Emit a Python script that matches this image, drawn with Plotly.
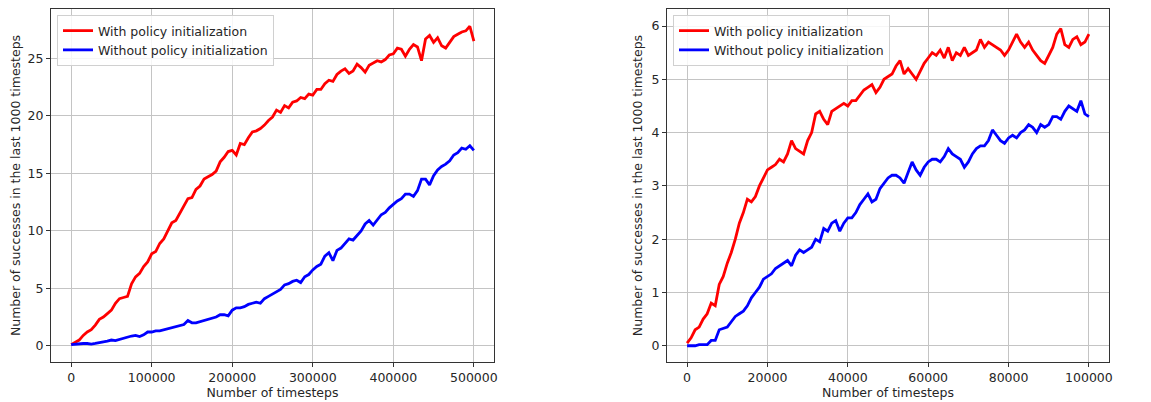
import plotly.graph_objects as go

# ---- data ----
steps_left = [i * 5000 for i in range(101)]
with_init_left = [
    0.1, 0.3, 0.5, 0.9, 1.2, 1.4, 1.8, 2.3, 2.5, 2.8,
    3.1, 3.7, 4.1, 4.2, 4.3, 5.4, 6.0, 6.3, 6.9, 7.3,
    8.0, 8.2, 8.9, 9.3, 10.0, 10.7, 10.9, 11.5, 12.1, 12.8,
    12.9, 13.6, 13.9, 14.5, 14.7, 14.9, 15.2, 16.0, 16.4, 16.9,
    17.0, 16.6, 17.6, 17.5, 18.1, 18.6, 18.7, 18.9, 19.2, 19.6,
    19.9, 20.5, 20.3, 20.9, 20.7, 21.2, 21.3, 21.6, 21.5, 21.9,
    21.8, 22.3, 22.3, 22.8, 23.1, 23.0, 23.6, 23.9, 24.1, 23.7,
    23.9, 24.5, 24.2, 23.8, 24.4, 24.6, 24.8, 24.7, 24.9, 25.3,
    25.4, 25.9, 25.8, 25.2, 25.8, 26.2, 26.0, 24.8, 26.7, 27.0,
    26.4, 26.8, 26.1, 25.9, 26.4, 26.9, 27.1, 27.3, 27.4, 27.8,
    26.5,
]
without_init_left = [
    0.1, 0.15, 0.2, 0.2, 0.2, 0.15, 0.2, 0.3, 0.35, 0.4,
    0.5, 0.45, 0.55, 0.7, 0.75, 0.85, 0.9, 0.8, 0.95, 1.2,
    1.2, 1.3, 1.3, 1.4, 1.5, 1.6, 1.7, 1.8, 1.85, 2.2,
    2.0, 2.0, 2.1, 2.2, 2.3, 2.4, 2.5, 2.7, 2.7, 2.6,
    3.1, 3.3, 3.3, 3.4, 3.6, 3.7, 3.8, 3.7, 4.1, 4.3,
    4.5, 4.7, 4.9, 5.3, 5.4, 5.6, 5.7, 5.5, 6.0, 6.2,
    6.6, 6.9, 7.1, 7.8, 8.1, 7.4, 8.3, 8.5, 8.9, 9.3,
    9.2, 9.6, 10.0, 10.6, 10.9, 10.5, 11.0, 11.4, 11.6, 12.0,
    12.3, 12.6, 12.8, 13.2, 13.2, 13.0, 13.5, 14.5, 14.5, 14.0,
    14.8, 15.3, 15.6, 15.8, 16.1, 16.6, 16.8, 17.2, 17.1, 17.4,
    17.0,
]

steps_right = [i * 1000 for i in range(101)]
with_init_right = [
    0.05, 0.15, 0.3, 0.35, 0.5, 0.6, 0.8, 0.75, 1.15, 1.3,
    1.55, 1.75, 2.0, 2.3, 2.5, 2.75, 2.7, 2.8, 3.0, 3.15,
    3.3, 3.35, 3.4, 3.5, 3.45, 3.6, 3.85, 3.7, 3.65, 3.6,
    3.85, 4.0, 4.35, 4.4, 4.25, 4.15, 4.4, 4.45, 4.5, 4.55,
    4.5, 4.6, 4.6, 4.7, 4.8, 4.85, 4.9, 4.75, 4.85, 5.0,
    5.05, 5.1, 5.25, 5.35, 5.1, 5.2, 5.1, 5.0, 5.15, 5.3,
    5.4, 5.5, 5.45, 5.55, 5.4, 5.6, 5.35, 5.5, 5.45, 5.6,
    5.45, 5.5, 5.55, 5.75, 5.6, 5.7, 5.65, 5.6, 5.55, 5.45,
    5.55, 5.7, 5.85, 5.7, 5.6, 5.7, 5.55, 5.45, 5.35, 5.3,
    5.45, 5.6, 5.85, 5.95, 5.65, 5.6, 5.75, 5.8, 5.65, 5.7,
    5.85,
]
without_init_right = [
    0.0, 0.0, 0.0, 0.02, 0.02, 0.02, 0.1, 0.1, 0.3, 0.32,
    0.35, 0.45, 0.55, 0.6, 0.65, 0.75, 0.9, 1.0, 1.1, 1.25,
    1.3, 1.35, 1.45, 1.5, 1.55, 1.6, 1.5, 1.7, 1.8, 1.75,
    1.8, 1.85, 2.0, 1.95, 2.2, 2.15, 2.3, 2.35, 2.15, 2.3,
    2.4, 2.4, 2.5, 2.65, 2.75, 2.85, 2.7, 2.75, 2.95, 3.05,
    3.15, 3.2, 3.2, 3.15, 3.05, 3.25, 3.45, 3.3, 3.2, 3.35,
    3.45, 3.5, 3.5, 3.45, 3.55, 3.7, 3.6, 3.55, 3.5, 3.35,
    3.45, 3.6, 3.7, 3.75, 3.75, 3.85, 4.05, 3.95, 3.85, 3.8,
    3.9, 3.95, 3.9, 4.0, 4.05, 4.15, 4.1, 4.0, 4.15, 4.1,
    4.15, 4.3, 4.3, 4.25, 4.4, 4.5, 4.45, 4.4, 4.6, 4.35,
    4.3,
]

label_with = "With policy initialization"
label_without = "Without policy initialization"
x_title = "Number of timesteps"
y_title = "Number of successes in the last 1000 timesteps"
left_xticks = [0, 100000, 200000, 300000, 400000, 500000]
left_yticks = [0, 5, 10, 15, 20, 25]
right_xticks = [0, 20000, 40000, 60000, 80000, 100000]
right_yticks = [0, 1, 2, 3, 4, 5, 6]

# ---- figure ----
FONT = "DejaVu Sans"
TXT = "#262626"
FS = 12.5
LW = 2.8
fig = go.Figure()

fig.add_trace(go.Scatter(x=steps_left, y=with_init_left, mode="lines", name=label_with,
                         line=dict(color="red", width=LW), xaxis="x", yaxis="y", legend="legend"))
fig.add_trace(go.Scatter(x=steps_left, y=without_init_left, mode="lines", name=label_without,
                         line=dict(color="blue", width=LW), xaxis="x", yaxis="y", legend="legend"))
fig.add_trace(go.Scatter(x=steps_right, y=with_init_right, mode="lines", name=label_with,
                         line=dict(color="red", width=LW), xaxis="x2", yaxis="y2", legend="legend2"))
fig.add_trace(go.Scatter(x=steps_right, y=without_init_right, mode="lines", name=label_without,
                         line=dict(color="blue", width=LW), xaxis="x2", yaxis="y2", legend="legend2"))

axis_common = dict(
    showline=True, linecolor="#333333", linewidth=1, mirror=True,
    ticks="outside", ticklen=4, tickcolor="#333333", tickwidth=1,
    showgrid=True, gridcolor="#c4c4c4", gridwidth=1,
    zeroline=False, tickfont=dict(family=FONT, size=FS, color=TXT),
    tickmode="array", automargin=False,
)

# page body has an 8px margin, so the figure is placed at (8, 8)
OFF = 8
W, H = 1151 - OFF, 402 - OFF
ml, mr, mt, mb = 51 - OFF, 42, 8 - OFF + 1, 40
pw = W - ml - mr
ph = H - mt - mb
left_end = (494 - OFF - ml) / pw
right_start = (667 - OFF - ml) / pw
title_font = dict(family=FONT, size=FS, color=TXT)
leg_y = (H - mb - (15 - OFF)) / ph

fig.update_layout(
    width=W, height=H,
    margin=dict(l=ml, r=mr, t=mt, b=mb, autoexpand=False),
    paper_bgcolor="white", plot_bgcolor="white",
    font=dict(family=FONT, size=FS, color=TXT),
    xaxis=dict(axis_common, domain=[0, left_end], range=[-25000, 525000],
               tickvals=left_xticks, ticktext=[str(v) for v in left_xticks],
               title=dict(text=x_title, standoff=2, font=title_font), anchor="y"),
    yaxis=dict(axis_common, domain=[0, 1], range=[-1.41, 29.3],
               tickvals=left_yticks, ticktext=[str(v) for v in left_yticks],
               title=dict(text=y_title, standoff=6, font=title_font), anchor="x"),
    xaxis2=dict(axis_common, domain=[right_start, 1], range=[-5000, 105000],
                tickvals=right_xticks, ticktext=[str(v) for v in right_xticks],
                title=dict(text=x_title, standoff=2, font=title_font), anchor="y2"),
    yaxis2=dict(axis_common, domain=[0, 1], range=[-0.305, 6.32],
                tickvals=right_yticks, ticktext=[str(v) for v in right_yticks],
                title=dict(text=y_title, standoff=6, font=title_font), anchor="x2"),
    legend=dict(x=(57 - OFF - ml) / pw, y=leg_y, xanchor="left", yanchor="top",
                bgcolor="rgba(255,255,255,0.85)", bordercolor="#d0d0d0", borderwidth=1,
                font=dict(family=FONT, size=FS, color=TXT), itemwidth=30, tracegroupgap=0),
    legend2=dict(x=(673 - OFF - ml) / pw, y=leg_y, xanchor="left", yanchor="top",
                 bgcolor="rgba(255,255,255,0.85)", bordercolor="#d0d0d0", borderwidth=1,
                 font=dict(family=FONT, size=FS, color=TXT), itemwidth=30, tracegroupgap=0),
    showlegend=True,
)

fig.write_html("out.html")
